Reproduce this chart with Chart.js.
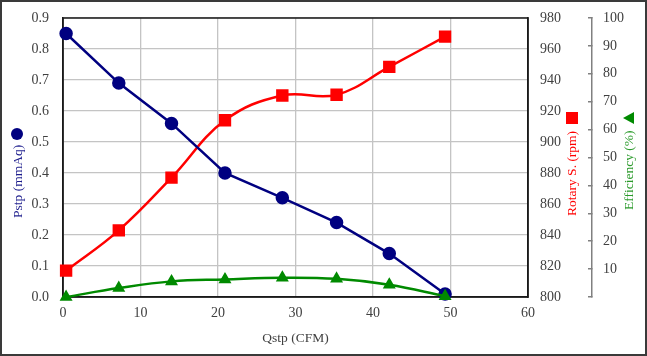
<!DOCTYPE html>
<html>
<head>
<meta charset="utf-8">
<script src="https://cdn.jsdelivr.net/npm/chart.js@4"></script>
<style>
html,body{margin:0;padding:0;background:#fff;}
#wrap{width:647px;height:356px;position:relative;}
canvas{display:block;}
</style>
</head>
<body>
<div id="wrap"><canvas id="c" width="647" height="356"></canvas></div>
<script>
// ---- data ----
const qstp = [0.4, 7.2, 14.0, 20.9, 28.3, 35.3, 42.1, 49.3];
const pstp = [0.85, 0.69, 0.56, 0.40, 0.32, 0.24, 0.14, 0.01];
const rpm  = [817, 843, 877, 914, 930, 930.5, 948.5, 968];
const eff  = [0, 3.2, 5.6, 6.3, 6.9, 6.5, 4.4, 0.3];

const xTitle = 'Qstp (CFM)';
const pTitle = 'Pstp (mmAq)';
const rTitle = 'Rotary S. (rpm)';
const eTitle = 'Efficiency (%)';

const NAVY = '#000080', RED = '#ff0000', GREEN = '#008a00';
const TICK = '#404040';
const SERIF = '"Liberation Serif", "DejaVu Serif", serif';

const pts = (ys) => qstp.map((x, i) => ({x, y: ys[i]}));

const decor = {
  id: 'decor',
  beforeDatasetsDraw(chart) {
    const {ctx, chartArea: a} = chart;
    ctx.save();
    ctx.strokeStyle = '#1a1a1a';
    ctx.lineWidth = 1.5;
    ctx.strokeRect(a.left, a.top, a.right - a.left, a.bottom - a.top);
    ctx.restore();
  },
  afterDraw(chart) {
    const ctx = chart.ctx;
    ctx.save();
    // outer frame
    ctx.strokeStyle = '#3a3a3a';
    ctx.lineWidth = 2;
    ctx.strokeRect(1, 1, 645, 354);
    // vertical titles (read bottom to top)
    const vt = (text, cx, yStart, color) => {
      ctx.save();
      ctx.translate(cx, yStart);
      ctx.rotate(-Math.PI / 2);
      ctx.font = '13.5px ' + SERIF;
      ctx.fillStyle = color;
      ctx.textAlign = 'left';
      ctx.textBaseline = 'middle';
      ctx.fillText(text, 0, 0);
      ctx.restore();
    };
    vt(pTitle, 18, 218, '#1c1c8c');
    vt(rTitle, 572, 216, RED);
    vt(eTitle, 629, 210, '#2a9a2a');
    // markers in titles
    ctx.fillStyle = NAVY;
    ctx.beginPath(); ctx.arc(17, 134, 6, 0, Math.PI * 2); ctx.fill();
    ctx.fillStyle = RED;
    ctx.fillRect(566, 112, 12, 12);
    ctx.fillStyle = GREEN;
    ctx.beginPath(); ctx.moveTo(623, 118); ctx.lineTo(634, 112); ctx.lineTo(634, 124); ctx.closePath(); ctx.fill();
    ctx.restore();
  }
};

const noPadV = (w) => (s) => { s.width = w; s.paddingTop = 0; s.paddingBottom = 0; };

new Chart(document.getElementById('c'), {
  type: 'line',
  data: {
    datasets: [
      {label: 'Efficiency', data: pts(eff), yAxisID: 'y2', borderColor: GREEN, backgroundColor: GREEN,
       borderWidth: 2.5, tension: 0.4, pointStyle: 'triangle', pointRadius: 5, pointHoverRadius: 5, clip: false, order: 1},
      {label: 'Pstp', data: pts(pstp), yAxisID: 'y', borderColor: NAVY, backgroundColor: NAVY,
       borderWidth: 2.5, tension: 0, pointStyle: 'circle', pointRadius: 5.5, pointHoverRadius: 5.5, clip: false, order: 2},
      {label: 'Rotary S.', data: pts(rpm), yAxisID: 'y1', borderColor: RED, backgroundColor: RED,
       borderWidth: 2.5, tension: 0.4, pointStyle: 'rect', pointRadius: 7, pointHoverRadius: 7, clip: false, order: 3}
    ]
  },
  options: {
    responsive: false,
    animation: false,
    events: [],
    layout: {padding: {top: 18, left: 0, right: 0, bottom: 0}},
    plugins: {legend: {display: false}, tooltip: {enabled: false}},
    scales: {
      x: {
        type: 'linear', position: 'bottom', min: 0, max: 60,
        ticks: {stepSize: 10, color: TICK, font: {family: SERIF, size: 14}, padding: 8, maxRotation: 0},
        grid: {color: '#c4c4c4', lineWidth: 1.3, drawTicks: false},
        border: {display: true, color: '#1a1a1a', width: 1.5},
        title: {display: true, text: xTitle, color: TICK, font: {family: SERIF, size: 13.5}, padding: {top: 4, bottom: 9}},
        afterFit: s => { s.height = 59; s.paddingLeft = 0; s.paddingRight = 0; }
      },
      y: {
        position: 'left', min: 0, max: 0.9,
        ticks: {stepSize: 0.1, color: TICK, font: {family: SERIF, size: 14}, padding: 14,
                callback: v => Number(v).toFixed(1)},
        grid: {color: '#c4c4c4', lineWidth: 1.3, drawTicks: false},
        border: {display: true, color: '#1a1a1a', width: 1.5},
        afterFit: noPadV(63)
      },
      y1: {
        position: 'right', min: 800, max: 980,
        ticks: {stepSize: 20, color: TICK, font: {family: SERIF, size: 14}, padding: 12},
        grid: {drawOnChartArea: false, drawTicks: false},
        border: {display: true, color: '#1a1a1a', width: 1.5},
        afterFit: noPadV(64)
      },
      y2: {
        position: 'right', min: 0, max: 100,
        ticks: {stepSize: 10, color: TICK, font: {family: SERIF, size: 14}, padding: 15,
                callback: v => (v === 0 ? '' : v)},
        grid: {drawOnChartArea: false, drawTicks: true, tickLength: -4, color: '#808080', lineWidth: 1.5},
        border: {display: true, color: '#808080', width: 1.5},
        afterFit: noPadV(55)
      }
    }
  },
  plugins: [decor]
});
</script>
</body>
</html>
